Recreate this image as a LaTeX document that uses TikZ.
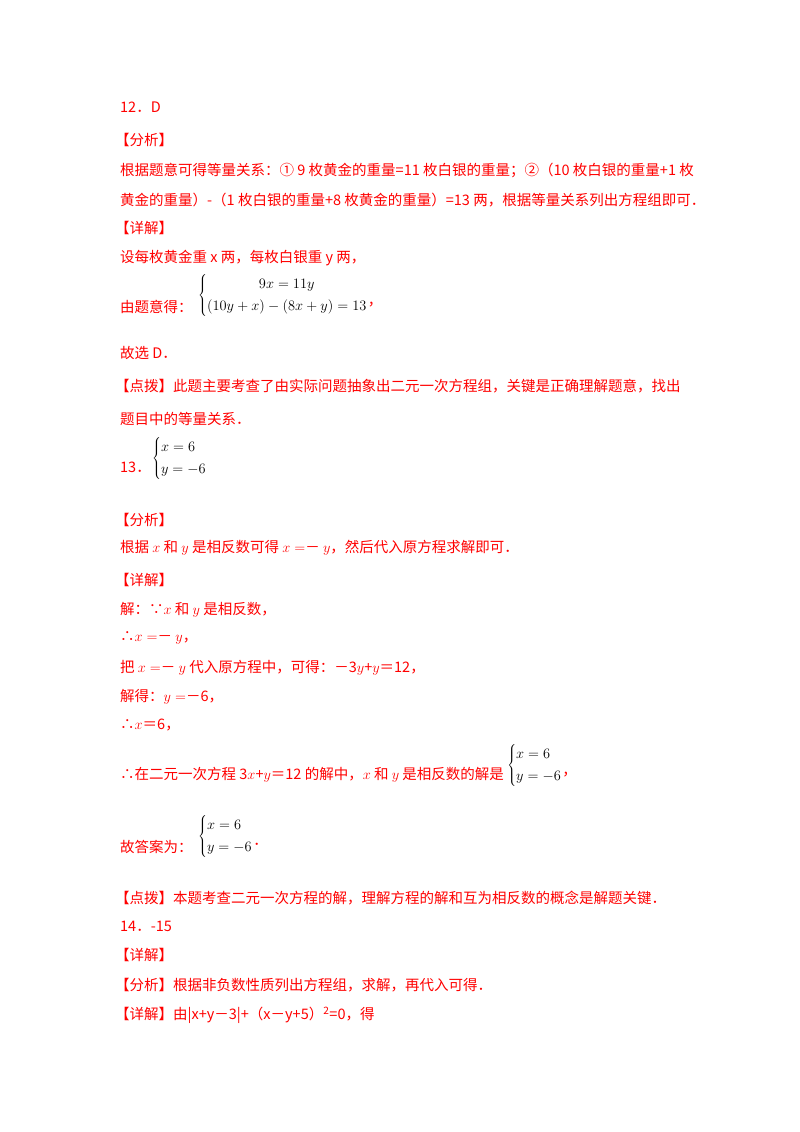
\documentclass[tikz,border=0pt]{standalone}
\usepackage{fontspec}
\setmainfont{Liberation Serif}
\newfontfamily\cjk{Noto Sans CJK SC}
\definecolor{rd}{HTML}{FF0000}
\renewcommand{\arraystretch}{1.3}
\begin{document}
\begin{tikzpicture}[x=1pt,y=-1pt,
  t/.style={anchor=west,inner sep=0pt,text=rd,font=\fontsize{14.5}{17}\selectfont\cjk}]
\useasboundingbox (0,0) rectangle (800,1132);
\newcommand{\m}[1]{{\color{black}\fontsize{14.5}{17}\selectfont$#1$}}
\node[t] (a1) at (120,107) {12．D};
\node[t] (a2) at (115,140) {【分析】};
\node[t] (a3) at (120,170) {根据题意可得等量关系：① 9 枚黄金的重量=11 枚白银的重量；②（10 枚白银的重量+1 枚};
\node[t] (a4) at (120,200) {黄金的重量）-（1 枚白银的重量+8 枚黄金的重量）=13 两，根据等量关系列出方程组即可．};
\node[t] (a5) at (115,228) {【详解】};
\node[t] (a6) at (120,258) {设每枚黄金重 x 两，每枚白银重 y 两，};
\node[t] (a7) at (120,307) {由题意得：};
\node[anchor=west,inner sep=0pt] (e1) at (198,295) {\m{\left\{\begin{array}{@{}c@{}}9x=11y\\(10y+x)-(8x+y)=13\end{array}\right.}};
\node[t] (a7b) at (e1.east) [anchor=west,yshift=-10pt] {，};
\node[t] (a8) at (120,353) {故选 D．};
\node[t] (a9) at (115,386) {【点拨】此题主要考查了由实际问题抽象出二元一次方程组，关键是正确理解题意，找出};
\node[t] (a10) at (120,419) {题目中的等量关系．};
\node[t] (a11) at (120,467) {13．};
\node[anchor=west,inner sep=0pt] (e2) at (152,458) {\m{\left\{\begin{array}{@{}l@{}}x=6\\y=-6\end{array}\right.}};
\node[t] (a12) at (115,520) {【分析】};
\node[t] (a13) at (120,548) {根据 \m{\color{rd}x} 和 \m{\color{rd}y} 是相反数可得 \m{\color{rd}x=}－ \m{\color{rd}y}，然后代入原方程求解即可．};
\node[t] (a14) at (115,580) {【详解】};
\node[t] (a15) at (120,610) {解：∵\m{\color{rd}x} 和 \m{\color{rd}y} 是相反数，};
\node[t] (a16) at (120,638) {∴\m{\color{rd}x=}－ \m{\color{rd}y}，};
\node[t] (a17) at (120,668) {把 \m{\color{rd}x=}－ \m{\color{rd}y} 代入原方程中，可得：－3\m{\color{rd}y}+\m{\color{rd}y}＝12，};
\node[t] (a18) at (120,697) {解得：\m{\color{rd}y=}－6，};
\node[t] (a19) at (120,725) {∴\m{\color{rd}x}＝6，};
\node[t] (a20) at (120,775) {∴在二元一次方程 3\m{\color{rd}x}+\m{\color{rd}y}＝12 的解中，\m{\color{rd}x} 和 \m{\color{rd}y} 是相反数的解是};
\node[anchor=west,inner sep=0pt] (e3) at (a20.east) [xshift=3pt,yshift=10pt] {\m{\left\{\begin{array}{@{}l@{}}x=6\\y=-6\end{array}\right.}};
\node[t] (a20b) at (e3.east) [anchor=west,yshift=-10pt] {，};
\node[t] (a21) at (120,847) {故答案为：};
\node[anchor=west,inner sep=0pt] (e4) at (198,836) {\m{\left\{\begin{array}{@{}l@{}}x=6\\y=-6\end{array}\right.}};
\node[t] (a21b) at (e4.east) [anchor=west,yshift=-8pt] {．};
\node[t] (a22) at (115,898) {【点拨】本题考查二元一次方程的解，理解方程的解和互为相反数的概念是解题关键．};
\node[t] (a23) at (120,926) {14．-15};
\node[t] (a24) at (115,955) {【详解】};
\node[t] (a25) at (115,985) {【分析】根据非负数性质列出方程组，求解，再代入可得．};
\node[t] (a26) at (115,1015) {【详解】由|x+y－3|+（x－y+5）\textsuperscript{2}=0，得};
\end{tikzpicture}
\end{document}
